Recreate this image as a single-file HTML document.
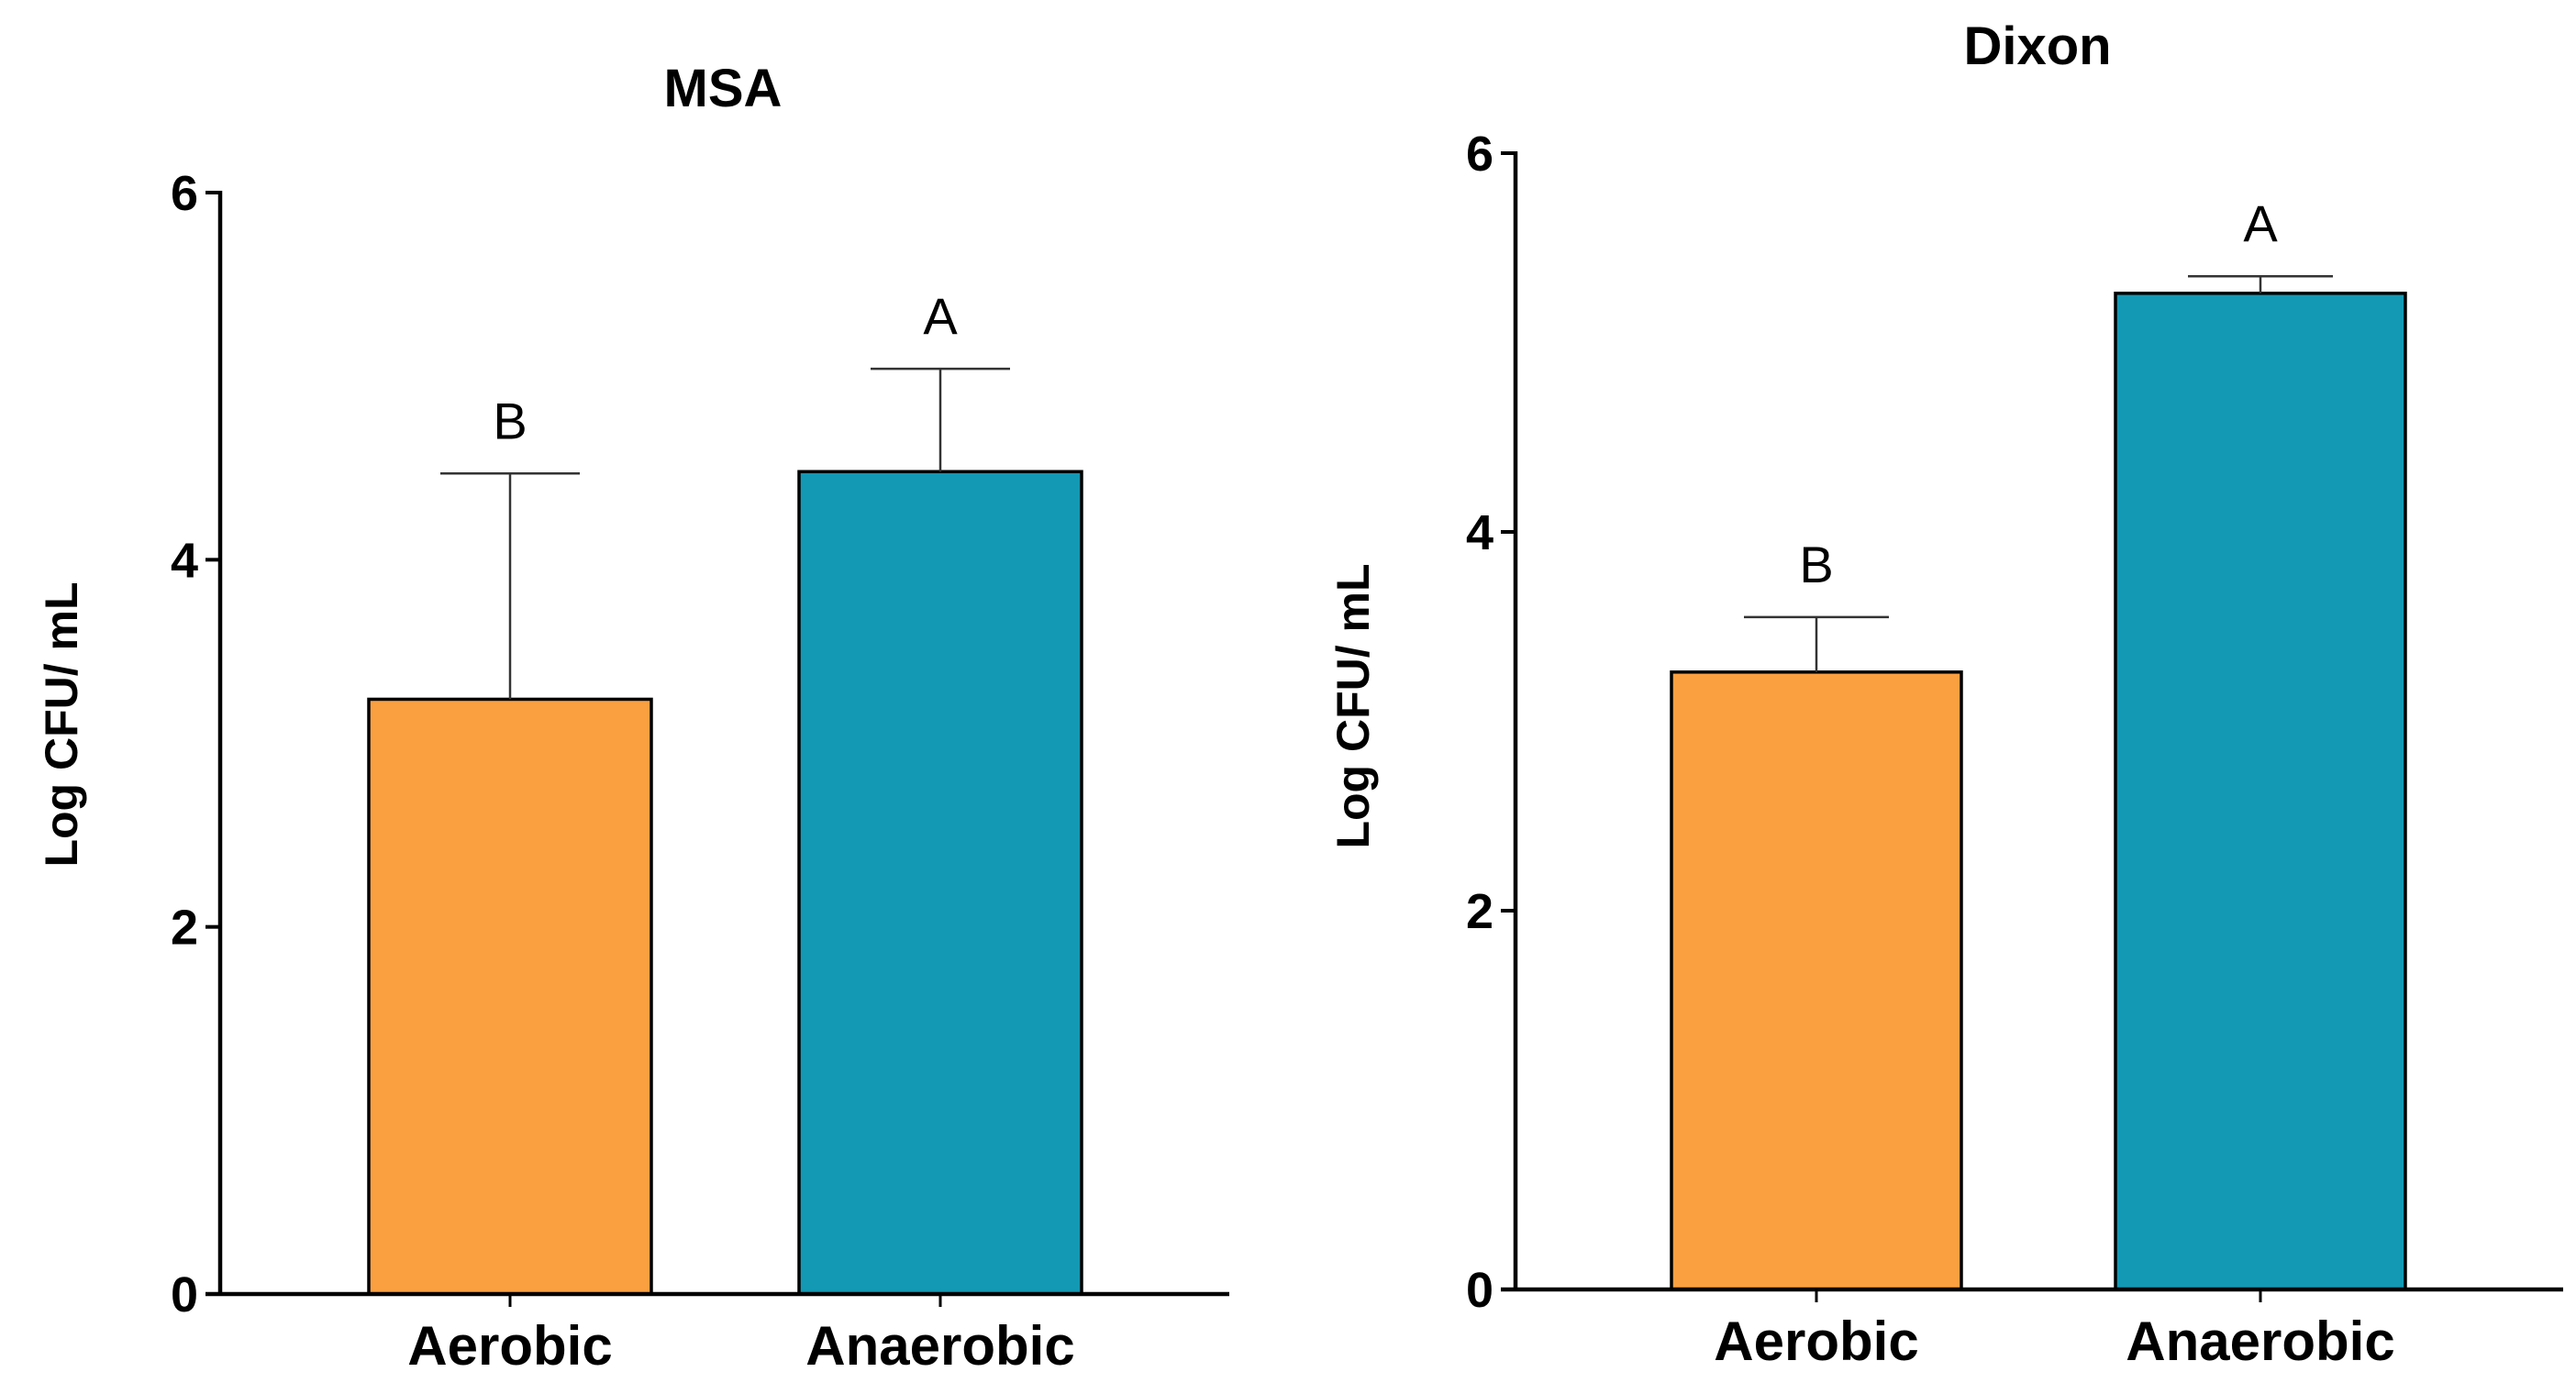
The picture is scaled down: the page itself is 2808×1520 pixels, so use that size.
<!DOCTYPE html>
<html><head><meta charset="utf-8"><style>
html,body{margin:0;padding:0;background:#fff;width:2808px;height:1520px;overflow:hidden}
svg text{font-family:"Liberation Sans",Arial,sans-serif}
</style></head><body>
<svg id="chart" width="2808" height="1520" viewBox="0 0 2808 1520" xmlns="http://www.w3.org/2000/svg"></svg>
<script>
const categories = ["Aerobic", "Anaerobic"];
const msaValues = [3.24, 4.48];
const msaErrors = [1.23, 0.56];
const msaLetters = ["B", "A"];
const dixonValues = [3.26, 5.26];
const dixonErrors = [0.29, 0.09];
const dixonLetters = ["B", "A"];
const yTicks = [0, 2, 4, 6];
const colors = ["#FBA040", "#1399B4"];

const svg = document.getElementById('chart');
const NS = 'http://www.w3.org/2000/svg';
function mk(tag, attrs, text){
  const e = document.createElementNS(NS, tag);
  for (const k in attrs) e.setAttribute(k, attrs[k]);
  if (text !== undefined) e.textContent = text;
  svg.appendChild(e);
  return e;
}

function panel(p){
  const y = v => p.y0 - (v / 6) * (p.y0 - p.y6);
  const t = mk('text', {x:p.titleX, y:p.titleY, 'font-size':58, 'font-weight':'bold', 'text-anchor':'middle'}, p.title);
  
  
  const yl = mk('text', {x:0, y:0, 'font-size':50, 'font-weight':'bold', 'text-anchor':'middle',
    transform:`translate(${p.ylX},${p.ylY}) rotate(-90)`}, 'Log CFU/ mL');
  
  
  categories.forEach((c, i) => {
    const cx = p.centers[i];
    const top = y(p.values[i]);
    const bar = mk('rect', {x:cx - p.bw/2, y:top, width:p.bw, height:p.y0 - top, fill:colors[i], stroke:'#000', 'stroke-width':3.5});
    
    
    const et = y(p.values[i] + p.errors[i]);
    const eb = mk('line', {x1:cx, x2:cx, y1:top, y2:et, stroke:'#333', 'stroke-width':2.5});
    
    
    const cap = mk('line', {x1:cx - p.cap, x2:cx + p.cap, y1:et, y2:et, stroke:'#333', 'stroke-width':2.5});
    
    
    const lt = mk('text', {x:cx, y:et - 38, 'font-size':56, 'text-anchor':'middle'}, p.letters[i]);
    
    
    const xt = mk('line', {x1:cx, x2:cx, y1:p.y0, y2:p.y0 + 14, stroke:'#000', 'stroke-width':3});
    
    
    const xl = mk('text', {x:cx, y:p.y0 + 77, 'font-size':60, 'font-weight':'bold', 'text-anchor':'middle'}, c);
    
    
  });
  const ya = mk('line', {x1:p.ax, x2:p.ax, y1:p.y6 - 2, y2:p.y0 + 2, stroke:'#000', 'stroke-width':4.5});
  
  
  const xa = mk('line', {x1:p.ax - 16, x2:p.xEnd, y1:p.y0, y2:p.y0, stroke:'#000', 'stroke-width':4.5});
  
  
  yTicks.forEach(v => {
    const tk = mk('line', {x1:p.ax - 16, x2:p.ax, y1:y(v), y2:y(v), stroke:'#000', 'stroke-width':4});
    
    
    const tl = mk('text', {x:p.ax - 24, y:y(v) + 19, 'font-size':54, 'font-weight':'bold', 'text-anchor':'end'}, String(v));
    
    
  });
}

panel({key:'msa', title:'MSA', titleX:788, titleY:116, ylX:84, ylY:790,
  ax:240, xEnd:1340, y0:1411, y6:210, centers:[556, 1025], bw:308, cap:76,
  values:msaValues, errors:msaErrors, letters:msaLetters});
panel({key:'dixon', title:'Dixon', titleX:2221, titleY:70, ylX:1492, ylY:770,
  ax:1652, xEnd:2794, y0:1406, y6:167, centers:[1980, 2464], bw:316, cap:79,
  values:dixonValues, errors:dixonErrors, letters:dixonLetters});
</script>
</body></html>
